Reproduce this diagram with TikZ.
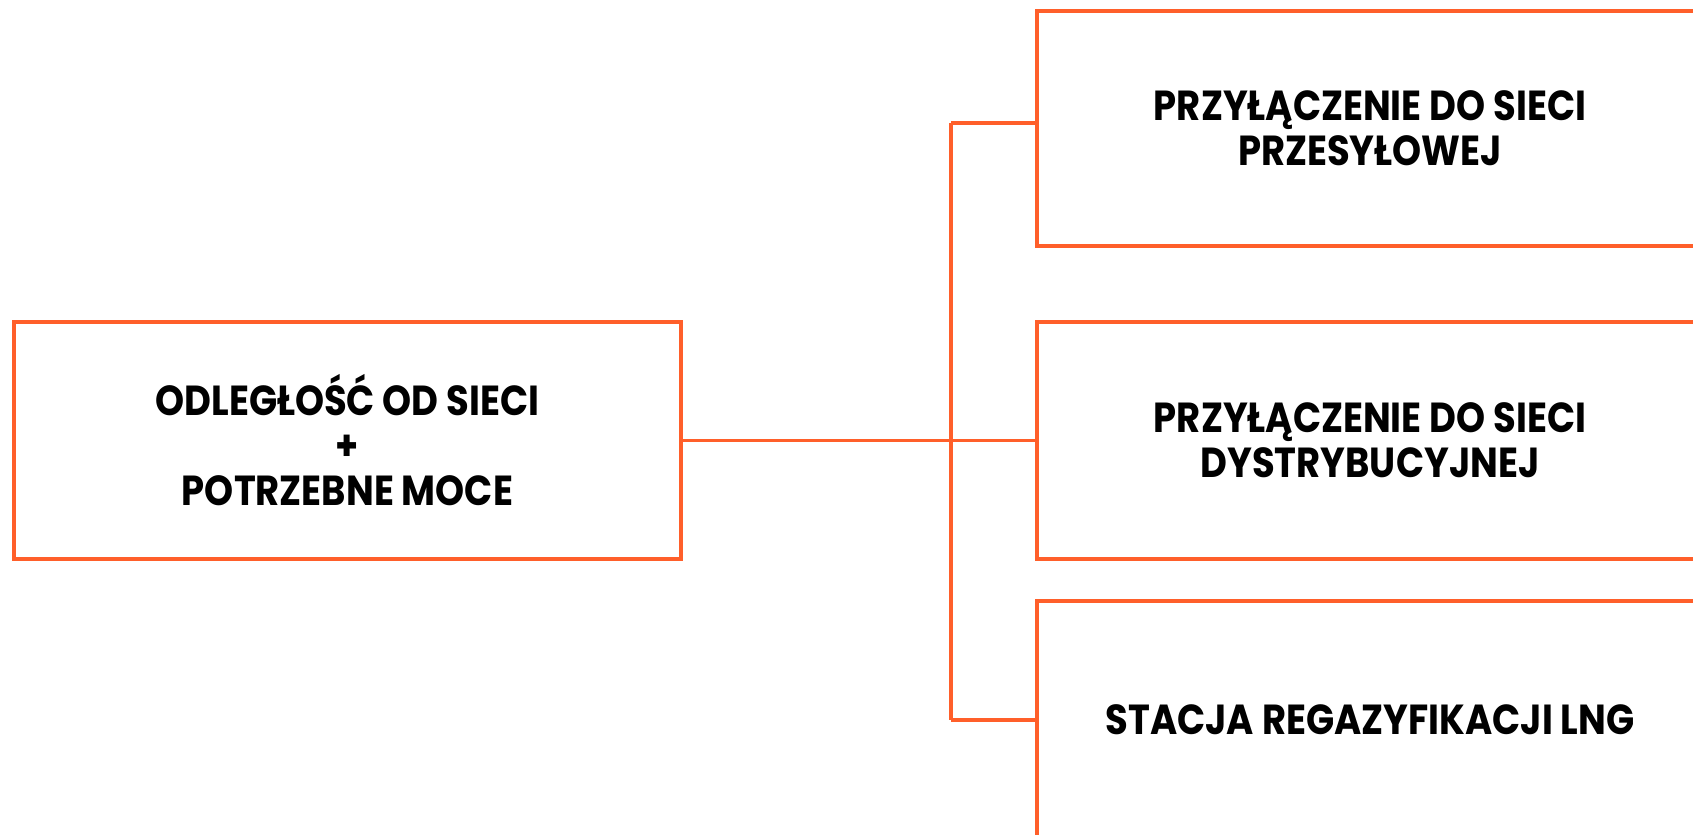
\documentclass[tikz,border=0pt]{standalone}
\usepackage{fontspec}
\setmainfont{Poppins}[FakeStretch=0.88,UprightFont=* Bold,BoldFont=* Bold]
\definecolor{brand}{HTML}{FF5F2A}
\begin{document}
\begin{tikzpicture}[x=0.5pt,y=-0.5pt,
  box/.style={draw=brand,line width=2pt,rectangle,align=center,inner sep=0pt,
    font=\fontsize{21}{22.5}\selectfont,text=black,minimum width=333pt},
  link/.style={draw=brand,line width=1.8pt}]
\clip (0,0) rectangle (1693,835);
\fill[white] (0,0) rectangle (1693,835);
\node[box,minimum width=333.5pt,minimum height=118.5pt] (src) at (347.5,440.5)
  {ODLEGŁOŚĆ OD SIECI\\+\\POTRZEBNE MOCE};
\node[box,minimum height=117.5pt] (top) at (1370,128.5)
  {PRZYŁĄCZENIE DO SIECI\\PRZESYŁOWEJ};
\node[box,minimum height=118.5pt] (mid) at (1370,440.5)
  {PRZYŁĄCZENIE DO SIECI\\DYSTRYBUCYJNEJ};
\node[box,minimum height=118.5pt] (bot) at (1370,719.5)
  {STACJA REGAZYFIKACJI LNG};
\coordinate (ttop) at (951,123);
\coordinate (tbot) at (951,720);
\draw[link] (src.east) -- (mid.west);
\draw[link] (ttop) -- (tbot);
\draw[link] (ttop) -- (ttop -| top.west);
\draw[link] (tbot) -- (tbot -| bot.west);
\end{tikzpicture}
\end{document}
